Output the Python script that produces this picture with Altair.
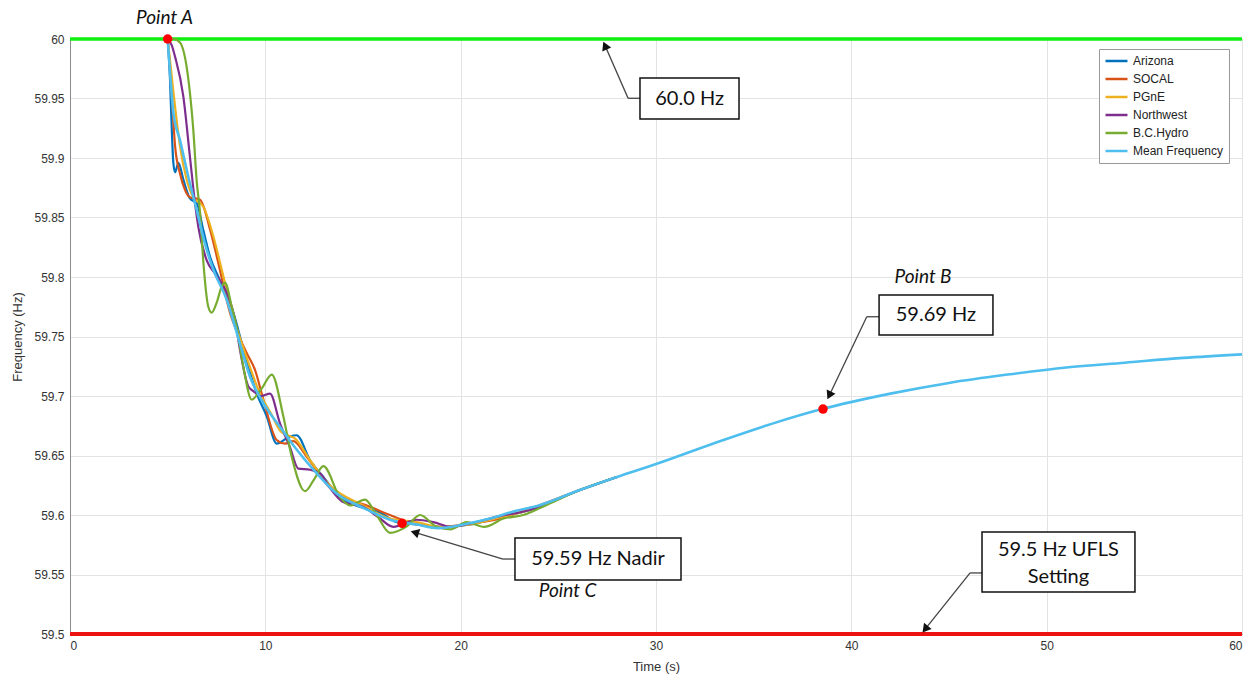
import altair as alt
import pandas as pd

# ---------------- data ----------------
names = ["Arizona", "SOCAL", "PGnE", "Northwest", "B.C.Hydro", "Mean Frequency"]
colors = ["#0072BD", "#D95319", "#EDB120", "#7E2F8E", "#77AC30", "#4DBEEE"]

az_t = [5.0, 5.12, 5.21, 5.29, 5.38, 5.55, 5.8, 6.14, 6.49, 6.83, 7.17, 7.68, 8.36, 8.87, 9.56,
        10.07, 10.58, 11.26, 11.6, 12.29, 12.97, 13.82, 15.02, 15.87, 16.73, 17.75, 19.0, 20.5,
        22.0, 23.5, 26.1, 28.0]
az_f = [60.0, 59.966, 59.924, 59.896, 59.888, 59.896, 59.882, 59.866, 59.862, 59.839, 59.817,
        59.797, 59.770, 59.740, 59.702, 59.683, 59.660, 59.666, 59.667, 59.646, 59.632, 59.615,
        59.606, 59.602, 59.594, 59.592, 59.590, 59.592, 59.598, 59.604, 59.621, 59.632]

so_t = [5.0, 5.1, 5.21, 5.38, 5.63, 5.89, 6.14, 6.66, 7.17, 7.59, 8.19, 8.6, 9.05, 9.47, 9.9,
        10.58, 11.0, 11.43, 12.12, 13.3, 14.2, 15.02, 16.38, 17.75, 19.0, 20.5, 22.0, 23.5, 26.1,
        28.0]
so_f = [60.0, 59.98, 59.952, 59.91, 59.887, 59.873, 59.867, 59.865, 59.840, 59.812, 59.770,
        59.752, 59.736, 59.722, 59.697, 59.663, 59.660, 59.662, 59.649, 59.623, 59.613, 59.609,
        59.600, 59.592, 59.590, 59.593, 59.597, 59.605, 59.621, 59.632]

pg_t = [5.0, 5.2, 5.4, 5.63, 5.97, 6.31, 6.83, 7.34, 7.77, 8.36, 9.05, 9.73, 10.3, 10.75, 11.6,
        12.29, 13.3, 15.02, 16.38, 17.75, 19.0, 20.5, 22.0, 23.5, 26.1, 28.0]
pg_f = [60.0, 59.97, 59.94, 59.91, 59.882, 59.867, 59.859, 59.834, 59.806, 59.767, 59.732,
        59.702, 59.685, 59.671, 59.663, 59.646, 59.625, 59.608, 59.597, 59.594, 59.590, 59.592,
        59.598, 59.604, 59.621, 59.632]

nw_t = [5.0, 5.2, 5.38, 5.8, 6.14, 6.4, 6.57, 7.0, 7.42, 8.02, 8.45, 8.7, 9.13, 9.39, 9.8, 10.24,
        10.75, 11.26, 11.69, 12.29, 12.8, 13.3, 13.98, 15.0, 15.8, 16.55, 17.75, 18.6, 19.5, 20.5,
        22.0, 23.5, 26.1, 28.0]
nw_f = [60.0, 59.995, 59.985, 59.952, 59.901, 59.862, 59.842, 59.814, 59.803, 59.787, 59.764,
        59.739, 59.708, 59.704, 59.700, 59.702, 59.677, 59.657, 59.639, 59.638, 59.635, 59.623,
        59.611, 59.607, 59.598, 59.590, 59.596, 59.594, 59.590, 59.593, 59.599, 59.604, 59.621,
        59.632]

bc_t = [5.0, 5.3, 5.63, 6.06, 6.31, 6.49, 6.66, 6.83, 7.08, 7.25, 7.5, 7.77, 7.94, 8.28, 8.53,
        8.87, 9.3, 9.8, 10.33, 10.92, 11.35, 12.03, 12.5, 12.97, 13.82, 14.34, 15.1, 15.7, 16.38,
        17.2, 17.92, 18.77, 19.5, 20.3, 21.2, 22.2, 23.2, 24.2, 26.1, 28.0]
bc_f = [60.0, 60.0, 59.997, 59.966, 59.924, 59.88, 59.854, 59.812, 59.775, 59.770, 59.778,
        59.792, 59.795, 59.775, 59.758, 59.725, 59.697, 59.706, 59.718, 59.683, 59.649, 59.620,
        59.630, 59.641, 59.615, 59.608, 59.613, 59.600, 59.585, 59.590, 59.600, 59.590, 59.588,
        59.594, 59.590, 59.597, 59.600, 59.607, 59.621, 59.632]

mean_t = [5.0, 5.15, 5.29, 5.63, 6.06, 6.49, 6.91, 7.34, 8.02, 8.45, 8.7, 9.22, 9.9, 10.75, 11.6,
          12.63, 13.65, 15.02, 16.38, 17.75, 18.85, 20.14, 21.5, 22.7, 24.0, 26.1, 28.0, 30.04,
          33.45, 36.0, 38.5, 42.0, 45.0, 48.0, 51.0, 54.0, 57.0, 60.0]
mean_f = [60.0, 59.965, 59.938, 59.915, 59.884, 59.856, 59.828, 59.806, 59.781, 59.758, 59.744,
          59.716, 59.694, 59.674, 59.655, 59.635, 59.618, 59.606, 59.596, 59.592, 59.589, 59.592,
          59.597, 59.603, 59.608, 59.621, 59.632, 59.643, 59.663, 59.677, 59.689, 59.702, 59.711,
          59.718, 59.724, 59.728, 59.732, 59.735]

# key points A, C, B
pt_t = [5.0, 17.0, 38.55]
pt_f = [60.0, 59.593, 59.689]

# annotation boxes (in data units) and their texts
box_t1 = [29.18, 41.42, 22.78, 46.69]
box_t2 = [34.25, 47.25, 31.28, 54.52]
box_f1 = [59.9672, 59.7849, 59.5807, 59.5857]
box_f2 = [59.9328, 59.7513, 59.5454, 59.5353]

lbl_text = ["60.0 Hz", "59.69 Hz", "59.59 Hz Nadir", "59.5 Hz UFLS", "Setting"]
lbl_t = [31.72, 44.33, 27.03, 50.6, 50.6]
lbl_f = [59.950, 59.768, 59.563, 59.5706, 59.5479]

pname_text = ["Point A", "Point B", "Point C"]
pname_t = [4.84, 43.67, 25.47]
pname_f = [60.018, 59.7996, 59.5361]

# leader segments
seg_t = [29.18, 28.57, 41.42, 40.79, 22.78, 22.17, 46.69, 46.08]
seg_f = [59.9502, 59.9502, 59.7666, 59.7666, 59.563, 59.563, 59.5513, 59.5513]
seg_t2 = [28.57, 27.39, 40.79, 38.87, 22.17, 17.65, 46.08, 43.78]
seg_f2 = [59.9502, 59.9945, 59.7666, 59.7004, 59.563, 59.5854, 59.5513, 59.5041]

# arrow heads
head_t = [27.39, 38.87, 17.65, 43.78]
head_f = [59.9945, 59.7004, 59.5854, 59.5041]
head_ang = [336, 206, 287, 219]

# ---------------- build tables ----------------
series = [("Arizona", az_t, az_f), ("SOCAL", so_t, so_f), ("PGnE", pg_t, pg_f),
          ("Northwest", nw_t, nw_f), ("B.C.Hydro", bc_t, bc_f),
          ("Mean Frequency", mean_t, mean_f)]
rows = []
for name, ts, fs in series:
    for i, (t, f) in enumerate(zip(ts, fs)):
        rows.append({"series": name, "t": t, "f": f, "i": i})
df = pd.DataFrame(rows)

df_pts = pd.DataFrame({"t": pt_t, "f": pt_f})
df_box = pd.DataFrame({"t": box_t1, "t2": box_t2, "f": box_f1, "f2": box_f2})
df_lbl = pd.DataFrame({"t": lbl_t, "f": lbl_f, "txt": lbl_text})
df_pn = pd.DataFrame({"t": pname_t, "f": pname_f, "txt": pname_text})
df_seg = pd.DataFrame({"t": seg_t, "f": seg_f, "t2": seg_t2, "f2": seg_f2})
df_head = pd.DataFrame({"t": head_t, "f": head_f, "ang": head_ang})

FONT = "Liberation Sans"
xs = alt.Scale(domain=[0, 60], nice=False, zero=False)
ys = alt.Scale(domain=[59.5, 60], nice=False, zero=False)

x_axis = alt.Axis(values=[0, 10, 20, 30, 40, 50, 60], grid=True, gridColor="#e3e3e3",
                  ticks=False, domainColor="#8c8c8c", labelFont=FONT, labelFontSize=12,
                  labelColor="#333333", labelPadding=6, title="Time (s)", titleFont=FONT,
                  titleFontSize=13, titleFontWeight="normal", titleColor="#333333",
                  titlePadding=9)
y_axis = alt.Axis(values=[59.5 + 0.05 * k for k in range(11)], format=".2~f", grid=True,
                  gridColor="#e3e3e3", ticks=False, domainColor="#8c8c8c", labelFont=FONT,
                  labelFontSize=12, labelColor="#333333", labelPadding=6,
                  title="Frequency (Hz)", titleFont=FONT, titleFontSize=13,
                  titleFontWeight="normal", titleColor="#333333", titlePadding=9)


def X(field="t"):
    return alt.X(f"{field}:Q", scale=xs, axis=x_axis, title="Time (s)")


def Y(field="f"):
    return alt.Y(f"{field}:Q", scale=ys, axis=y_axis, title="Frequency (Hz)")


color = alt.Color("series:N", scale=alt.Scale(domain=names, range=colors),
                  legend=alt.Legend(title=None, orient="none", legendX=1029, legendY=10,
                                    symbolType="stroke", symbolStrokeWidth=2.5,
                                    symbolSize=484, clipHeight=14, rowPadding=4,
                                    padding=5, strokeColor="#999999", fillColor="white",
                                    labelFont=FONT, labelFontSize=12, labelColor="#222222",
                                    labelLimit=300))

base = alt.Chart(df)
regional = base.transform_filter(alt.datum.series != "Mean Frequency").mark_line(
    interpolate="monotone", strokeWidth=2.2).encode(
    x=X(), y=Y(), color=color, order="i:Q")
mean_line = base.transform_filter(alt.datum.series == "Mean Frequency").mark_line(
    interpolate="monotone", strokeWidth=2.6).encode(
    x=X(), y=Y(), color=color, order="i:Q")

hz60 = alt.Chart(pd.DataFrame({"f": [60.0]})).mark_rule(
    color="#11ee11", strokeWidth=3.5).encode(y=Y())
ufls = alt.Chart(pd.DataFrame({"f": [59.5]})).mark_rule(
    color="#ee1111", strokeWidth=4).encode(y=Y())

points = alt.Chart(df_pts).mark_circle(size=90, color="#ff0000", opacity=1).encode(x=X(), y=Y())

segs = alt.Chart(df_seg).mark_rule(color="#444444", strokeWidth=1.3).encode(
    x=X(), y=Y(), x2="t2:Q", y2="f2:Q")
heads = alt.Chart(df_head).mark_point(shape="triangle-up", filled=True, color="#111111",
                                      size=95, opacity=1).encode(
    x=X(), y=Y(), angle=alt.Angle("ang:Q", scale=None))
boxes = alt.Chart(df_box).mark_rect(fill="white", stroke="#111111", strokeWidth=1.5).encode(
    x=X(), y=Y(), x2="t2:Q", y2="f2:Q")
labels = alt.Chart(df_lbl).mark_text(font="Lato", fontSize=20, color="#111111",
                                     align="center", baseline="middle").encode(
    x=X(), y=Y(), text="txt:N")
pnames = alt.Chart(df_pn).mark_text(font="Lato", fontSize=19, fontStyle="italic",
                                    color="#111111", align="center",
                                    baseline="middle").encode(x=X(), y=Y(), text="txt:N")

chart = alt.layer(hz60, ufls, regional, mean_line, points, segs, heads, boxes, labels,
                  pnames).properties(
    width=1172, height=595, autosize=alt.AutoSizeParams(type="none"),
    padding={"left": 70, "top": 39, "right": 15, "bottom": 50},
    background="white"
).configure_view(stroke="#8c8c8c", strokeWidth=1)

chart.save("out.html", embed_options={"renderer": "svg", "actions": False})
